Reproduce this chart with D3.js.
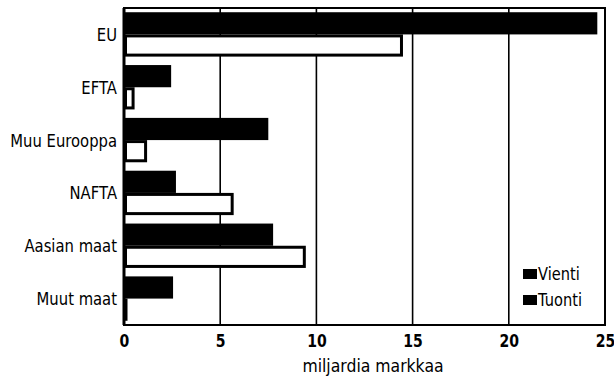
<!DOCTYPE html>
<html><head><meta charset="utf-8">
<script src="https://cdn.jsdelivr.net/npm/d3@7"></script>
<style>body{margin:0;background:#fff}svg{display:block}text{font-family:"DejaVu Sans",sans-serif;fill:#000}</style>
</head><body><svg id="c" width="614" height="380"></svg>
<script>
const categories = ["EU","EFTA","Muu Eurooppa","NAFTA","Aasian maat","Muut maat"];
const vienti = [24.6, 2.45, 7.5, 2.7, 7.75, 2.55];
const tuonti = [14.5, 0.55, 1.2, 5.7, 9.45, 0.1];
const ticks = [0,5,10,15,20,25];
const seriesNames = ["Vienti","Tuonti"];

const svg = d3.select("#c");
const L = 124, R = 605, T = 8, B = 325;
const x = d3.scaleLinear().domain([0,25]).range([L,R]);
const y = d3.scaleBand().domain(categories).range([T,B]).paddingInner(0.16).paddingOuter(0.08);
const sub = d3.scaleBand().domain(seriesNames).range([0,y.bandwidth()]);
const SX = 0.8;

// gridlines
svg.append("g").selectAll("line").data(ticks.filter(t=>t>0&&t<25)).join("line")
  .attr("x1",d=>x(d)).attr("x2",d=>x(d)).attr("y1",T).attr("y2",B)
  .attr("stroke","#000").attr("stroke-width",1.6);

// bars
const g = svg.append("g");
g.selectAll("rect.v").data(categories).join("rect").attr("class","v")
  .attr("x",x(0)).attr("y",d=>y(d)+sub("Vienti"))
  .attr("width",(d,i)=>x(vienti[i])-x(0)).attr("height",sub.bandwidth())
  .attr("fill","#000");
g.selectAll("rect.t").data(categories).join("rect").attr("class","t")
  .attr("x",x(0)+1.5).attr("y",d=>y(d)+sub("Tuonti")+1.5)
  .attr("width",(d,i)=>Math.max(0.5,x(tuonti[i])-x(0)-3)).attr("height",sub.bandwidth()-3)
  .attr("fill","#fff").attr("stroke","#000").attr("stroke-width",3);

// frame
svg.append("rect").attr("x",L).attr("y",T).attr("width",R-L).attr("height",B-T)
  .attr("fill","none").attr("stroke","#000").attr("stroke-width",2);
svg.append("line").attr("x1",L).attr("x2",L).attr("y1",T).attr("y2",B).attr("stroke","#000").attr("stroke-width",3);

// x axis
const xa = svg.append("g").attr("transform",`translate(0,${B})`)
  .call(d3.axisBottom(x).tickValues(ticks).tickSize(0).tickPadding(9).tickFormat(d3.format("d")));
xa.select(".domain").remove();
xa.selectAll("text").style("font-size","18px").style("font-weight","bold").attr("font-family",null)
  .attr("transform","scale(0.78,1)");

// y axis
const ya = svg.append("g").attr("transform",`translate(${L},0)`)
  .call(d3.axisLeft(y).tickSize(0).tickPadding(7));
ya.select(".domain").remove();
ya.selectAll("text").style("font-size","18.5px").attr("dy","0.35em").attr("font-family",null)
  .attr("x",-7/SX).attr("transform",`scale(${SX},1)`);

svg.append("text").attr("transform","translate(373,372) scale(0.87,1)").attr("text-anchor","middle")
  .style("font-size","18px").text("miljardia markkaa");

// legend
const lg = svg.append("g").selectAll("g").data(seriesNames).join("g")
  .attr("transform",(d,i)=>`translate(523,${269+i*26})`);
lg.append("rect").attr("width",14).attr("height",10).attr("fill","#000");
lg.append("text").attr("transform","translate(15,11) scale(0.86,1)").style("font-size","17px").text(d=>d);
</script></body></html>
